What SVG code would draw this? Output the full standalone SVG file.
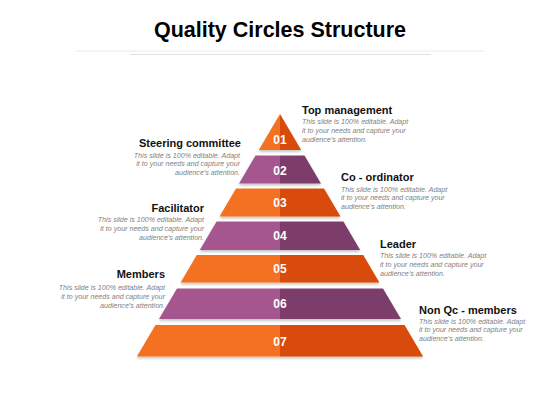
<svg xmlns="http://www.w3.org/2000/svg" width="560" height="420" viewBox="0 0 560 420">
<defs>
<filter id="sh" x="-10%" y="-20%" width="120%" height="160%">
<feDropShadow dx="0" dy="2" stdDeviation="1.2" flood-color="#000" flood-opacity="0.22"/>
</filter>
<style>
.ol{fill:#F47124}.or{fill:#D84C07}.pl{fill:#A6568E}.pr{fill:#7D3E6A}
.num{font-family:"Liberation Sans",Arial,sans-serif;font-weight:bold;font-size:12px;fill:#fff;text-anchor:middle}
.hd{font-family:"Liberation Sans",Arial,sans-serif;font-weight:bold;font-size:11px;fill:#111}
.ds{font-family:"Liberation Sans",Arial,sans-serif;font-style:italic;font-size:7.1px;fill:#7f7f7f}
.r{text-anchor:end}
.title{font-family:"Liberation Sans",Arial,sans-serif;font-weight:bold;font-size:21.5px;fill:#000;text-anchor:middle}
</style>
</defs>
<rect width="560" height="420" fill="#fff"/>
<g id="title">
<text class="title" x="280" y="36.5">Quality Circles Structure</text>
<line x1="75" y1="51" x2="485" y2="51" stroke="#ebebeb" stroke-width="1.2"/>
<line x1="130" y1="54.5" x2="431" y2="54.5" stroke="#e2e2e2" stroke-width="1"/>
</g>
<g id="level-01">
<g filter="url(#sh)">
<polygon class="ol" points="280,114 280,150 258.8,150"/>
<polygon class="or" points="280,114 301.2,150 280,150"/>
</g>
<text class="num" x="280" y="144.3">01</text>
<text class="hd" x="302" y="114.3">Top management</text>
<text class="ds" x="302" y="124.3">This slide is 100% editable. Adapt</text>
<text class="ds" x="302" y="133.3">it to your needs and capture your</text>
<text class="ds" x="302" y="142.3">audience’s attention.</text>
</g>
<g id="level-02">
<g filter="url(#sh)">
<polygon class="pl" points="255.5,155.5 280,155.5 280,183.5 239,183.5"/>
<polygon class="pr" points="280,155.5 304.5,155.5 321,183.5 280,183.5"/>
</g>
<text class="num" x="280" y="174.5">02</text>
<text class="hd r" x="241" y="147">Steering committee</text>
<text class="ds r" x="240" y="157.5">This slide is 100% editable. Adapt</text>
<text class="ds r" x="240" y="166.3">it to your needs and capture your</text>
<text class="ds r" x="240" y="175">audience’s attention.</text>
</g>
<g id="level-03">
<g filter="url(#sh)">
<polygon class="ol" points="236,188.5 280,188.5 280,216.5 219.5,216.5"/>
<polygon class="or" points="280,188.5 324,188.5 340.5,216.5 280,216.5"/>
</g>
<text class="num" x="280" y="207.3">03</text>
<text class="hd" x="341" y="180.5">Co - ordinator</text>
<text class="ds" x="341" y="191.5">This slide is 100% editable. Adapt</text>
<text class="ds" x="341" y="200.3">it to your needs and capture your</text>
<text class="ds" x="341" y="209">audience’s attention.</text>
</g>
<g id="level-04">
<g filter="url(#sh)">
<polygon class="pl" points="216.6,221.5 280,221.5 280,250 199.8,250"/>
<polygon class="pr" points="280,221.5 343.4,221.5 360.2,250 280,250"/>
</g>
<text class="num" x="280" y="240.3">04</text>
<text class="hd r" x="204" y="211.5">Facilitator</text>
<text class="ds r" x="204" y="222.3">This slide is 100% editable. Adapt</text>
<text class="ds r" x="204" y="231.1">it to your needs and capture your</text>
<text class="ds r" x="204" y="239.9">audience’s attention.</text>
</g>
<g id="level-05">
<g filter="url(#sh)">
<polygon class="ol" points="196.8,255 280,255 280,282.5 180.6,282.5"/>
<polygon class="or" points="280,255 363.2,255 379.4,282.5 280,282.5"/>
</g>
<text class="num" x="280" y="273.3">05</text>
<text class="hd" x="380" y="247.5">Leader</text>
<text class="ds" x="380" y="258.3">This slide is 100% editable. Adapt</text>
<text class="ds" x="380" y="267">it to your needs and capture your</text>
<text class="ds" x="380" y="275.7">audience’s attention.</text>
</g>
<g id="level-06">
<g filter="url(#sh)">
<polygon class="pl" points="177,288.5 280,288.5 280,319 159,319"/>
<polygon class="pr" points="280,288.5 383,288.5 401,319 280,319"/>
</g>
<text class="num" x="280" y="308.3">06</text>
<text class="hd r" x="165" y="278.3">Members</text>
<text class="ds r" x="165" y="290.3">This slide is 100% editable. Adapt</text>
<text class="ds r" x="165" y="299">it to your needs and capture your</text>
<text class="ds r" x="165" y="307.7">audience’s attention.</text>
</g>
<g id="level-07">
<g filter="url(#sh)">
<polygon class="ol" points="155.5,325 280,325 280,356.5 136.9,356.5"/>
<polygon class="or" points="280,325 404.5,325 423.1,356.5 280,356.5"/>
</g>
<text class="num" x="280" y="345.5">07</text>
<text class="hd" x="419" y="313.5">Non Qc - members</text>
<text class="ds" x="419" y="323.5">This slide is 100% editable. Adapt</text>
<text class="ds" x="419" y="332.2">it to your needs and capture your</text>
<text class="ds" x="419" y="340.9">audience’s attention.</text>
</g>
</svg>
